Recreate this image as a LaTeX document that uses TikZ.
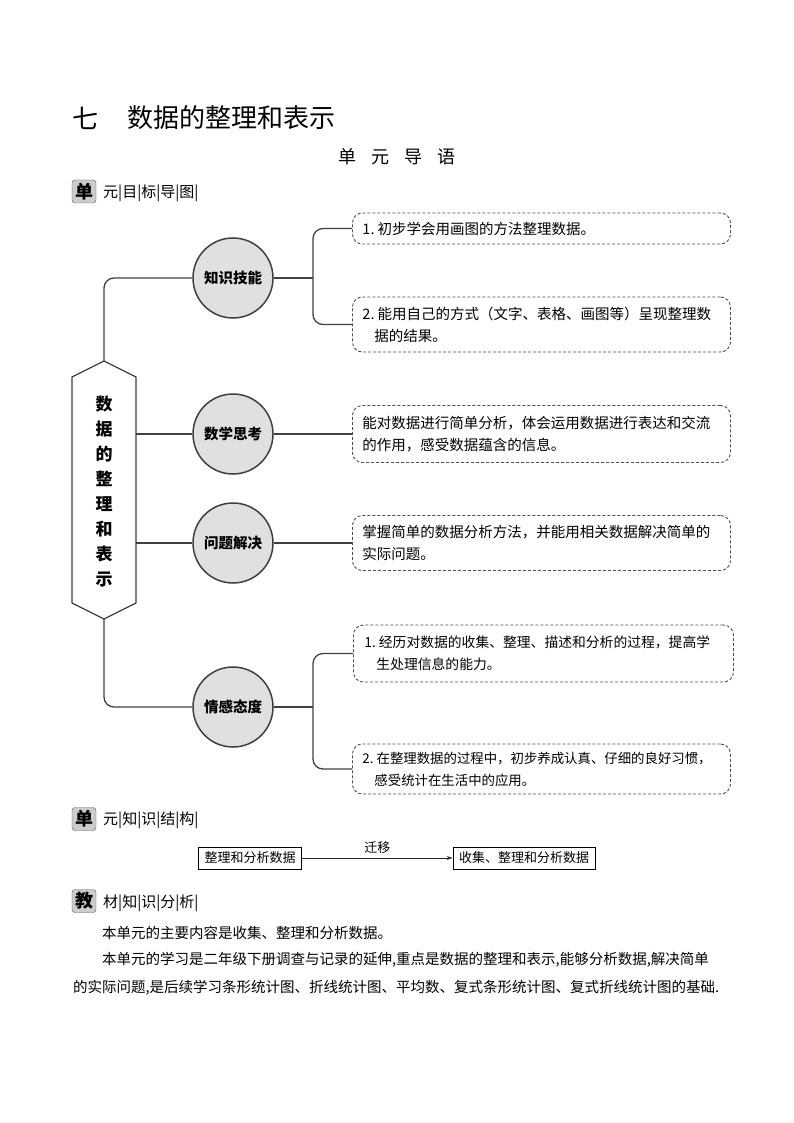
\documentclass[tikz,border=0pt]{standalone}
\usepackage{fontspec}
\setmainfont{Noto Sans CJK SC}
\usetikzlibrary{arrows.meta}
\tikzset{
  conn/.style={draw=black!75, line width=1.3pt},
  hexshape/.style={draw=black!75, fill=white, line width=1.3pt},
  topic/.style={circle, minimum size=80pt, inner sep=0pt, fill=black!12, draw=black!75, line width=1.5pt, font=\fontsize{14.5}{16}\selectfont\bfseries},
  goal/.style={draw=black!70, dash pattern=on 3pt off 2pt, line width=0.9pt, rounded corners=10pt, minimum width=378pt, text width=358pt, align=left, inner xsep=10pt, inner ysep=0pt, font=\fontsize{14.5}{22}\selectfont, anchor=west},
  icon/.style={draw=black!65, fill=black!20, rounded corners=3pt, minimum width=24pt, minimum height=23pt, inner sep=0pt, font=\fontsize{18}{18}\selectfont\bfseries},
  headtext/.style={anchor=west, inner sep=0pt, font=\fontsize{15}{15}\selectfont},
  sbox/.style={draw=black, line width=0.8pt, minimum height=22pt, inner xsep=6pt, inner ysep=0pt, font=\fontsize{13}{13}\selectfont},
  para/.style={anchor=west, inner sep=0pt, font=\fontsize{14.5}{14.5}\selectfont},
}
\begin{document}
\begin{tikzpicture}[x=1pt, y=-1pt]
\useasboundingbox (0,0) rectangle (794,1123);
% title
\node[inner sep=0pt, font=\fontsize{26}{26}\selectfont] (t0) at (85,118) {七};
\node[inner sep=0pt, anchor=west, font=\fontsize{26}{26}\selectfont] (t1) at (127,118) {数据的整理和表示};
\node[inner sep=0pt, font=\fontsize{18}{18}\selectfont] (t2) at (397,157) {单\hspace{15pt}元\hspace{15pt}导\hspace{15pt}语};
% header 1
\node[icon] (i1) at (84,191.5) {单};
\node[headtext] (h1) at (103,193) {元|目|标|导|图|};
% hexagon
\draw[hexshape] (72,377) -- (104,361) -- (136,377) -- (136,603) -- (104,619) -- (72,603) -- cycle;
\coordinate (hexTop) at (104,361);
\coordinate (hexBot) at (104,619);
\coordinate (hexR2) at (136,434);
\coordinate (hexR3) at (136,543);
\node[align=center, inner sep=0pt, font=\fontsize{17}{25}\selectfont\bfseries] (hex) at (104,492) {数\\据\\的\\整\\理\\和\\表\\示};
% topics
\node[topic] (c1) at (233,278) {知识技能};
\node[topic] (c2) at (233,434) {数学思考};
\node[topic] (c3) at (233,543) {问题解决};
\node[topic] (c4) at (233,707) {情感态度};
\draw[conn, rounded corners=10pt] (hexTop) |- (c1.west);
\draw[conn] (hexR2) -- (c2.west);
\draw[conn] (hexR3) -- (c3.west);
\draw[conn, rounded corners=10pt] (hexBot) |- (c4.west);
% goals
\node[goal, minimum height=31pt] (g1) at (352,228.5) {1.\hspace{3pt}初步学会用画图的方法整理数据。};
\node[goal, minimum height=55pt] (g2) at (352,324.5) {2.\hspace{3pt}能用自己的方式（文字、表格、画图等）呈现整理数\\\hspace*{12pt}据的结果。};
\node[goal, minimum height=57pt] (g3) at (352,434) {能对数据进行简单分析，体会运用数据进行表达和交流\\的作用，感受数据蕴含的信息。};
\node[goal, minimum height=55pt] (g4) at (352,543) {掌握简单的数据分析方法，并能用相关数据解决简单的\\实际问题。};
\node[goal, minimum height=57pt, minimum width=380pt, font=\fontsize{13.8}{22}\selectfont] (g5) at (353,653.5) {1.\hspace{3pt}经历对数据的收集、整理、描述和分析的过程，提高学\\\hspace*{12pt}生处理信息的能力。};
\node[goal, minimum height=50pt, font=\fontsize{13.4}{22}\selectfont] (g6) at (352,769) {2.\hspace{3pt}在整理数据的过程中，初步养成认真、仔细的良好习惯，\\\hspace*{12pt}感受统计在生活中的应用。};
\coordinate (b1) at (313,278);
\coordinate (b4) at (313,707);
\draw[conn] (c1.east) -- (b1);
\draw[conn, rounded corners=10pt] (g1.west) -| (b1) |- (g2.west);
\draw[conn] (c2.east) -- (g3.west);
\draw[conn] (c3.east) -- (g4.west);
\draw[conn] (c4.east) -- (b4);
\draw[conn, rounded corners=10pt] (g5.west) -| (b4) |- (g6.west);
% header 2
\node[icon] (i2) at (84,819) {单};
\node[headtext] (h2) at (103,820) {元|知|识|结|构|};
\node[sbox] (s1) at (250,858) {整理和分析数据};
\node[sbox] (s2) at (524,858) {收集、整理和分析数据};
\draw[draw=black!85, line width=0.9pt, -{Stealth[length=6pt,width=4pt]}] (s1.east) -- (s2.west) node[midway, above=1pt, font=\fontsize{13}{13}\selectfont] (lab) {迁移};
% header 3
\node[icon] (i3) at (84,901) {教};
\node[headtext] (h3) at (103,903) {材|知|识|分|析|};
\node[para] (p1) at (102,933) {本单元的主要内容是收集、整理和分析数据。};
\node[para] (p2) at (102,960) {本单元的学习是二年级下册调查与记录的延伸,重点是数据的整理和表示,能够分析数据,解决简单};
\node[para] (p3) at (73,988) {的实际问题,是后续学习条形统计图、折线统计图、平均数、复式条形统计图、复式折线统计图的基础.};
\end{tikzpicture}
\end{document}
